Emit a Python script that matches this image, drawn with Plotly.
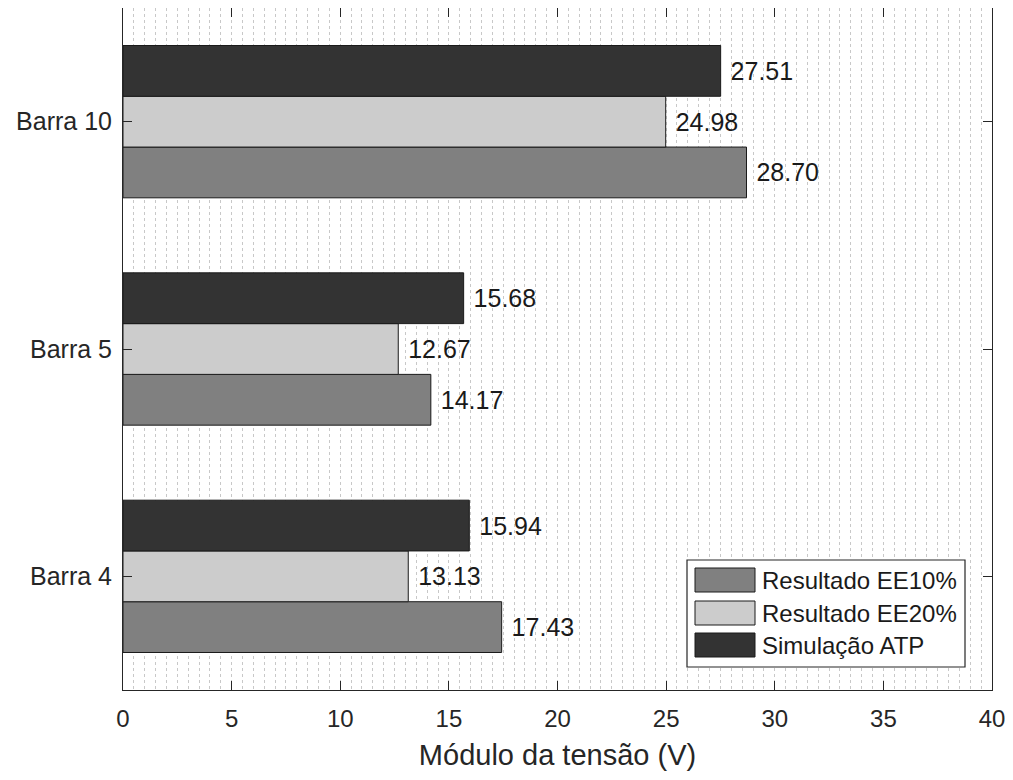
import plotly.graph_objects as go

categories = ["Barra 4", "Barra 5", "Barra 10"]
ee10 = [17.43, 14.17, 28.70]
ee20 = [13.13, 12.67, 24.98]
atp = [15.94, 15.68, 27.51]
series_names = ["Resultado EE10%", "Resultado EE20%", "Simulação ATP"]
colors = ["#808080", "#cccccc", "#333333"]
x_ticks = [0, 5, 10, 15, 20, 25, 30, 35, 40]

FONT = "Liberation Sans, Arial, sans-serif"
TXT = "#1a1a1a"
AX = "#262626"

fig = go.Figure()
for name, vals, col in zip(series_names, [ee10, ee20, atp], colors):
    fig.add_trace(go.Bar(
        y=categories, x=vals, name=name, orientation="h",
        marker=dict(color=col, line=dict(color="#1a1a1a", width=1)),
        text=vals, texttemplate=" %{x:.2f}", textposition="outside",
        textfont=dict(size=25, color=TXT, family=FONT),
        cliponaxis=False, showlegend=False,
    ))

# page is offset by the 8px body margin: compensate in the figure size/margins
W, H = 1005, 764
ML, MR, MT, MB = 115, 21, 0, 82
PW = W - ML - MR
PH = H - MT - MB
X0 = ML + 8          # page x of plot left
Y1 = MT + 8 + PH     # page y of plot bottom


def px(xp):  # page x -> paper
    return (xp - X0) / PW


def py(yp):  # page y -> paper
    return (Y1 - yp) / PH


shapes = [dict(type="rect", xref="paper", yref="paper",
               x0=px(687), x1=px(965), y0=py(667), y1=py(560),
               fillcolor="white", line=dict(color=AX, width=1.2), layer="above")]
annotations = []
sym_tops = [568, 601, 633]
for name, col, top in zip(series_names, colors, sym_tops):
    shapes.append(dict(type="rect", xref="paper", yref="paper",
                       x0=px(695), x1=px(755), y0=py(top + 24), y1=py(top),
                       fillcolor=col, line=dict(color="#1a1a1a", width=1), layer="above"))
    annotations.append(dict(xref="paper", yref="paper", x=px(760), y=py(top + 12),
                            xanchor="left", yanchor="middle", text=name, showarrow=False,
                            font=dict(size=24, color=TXT, family=FONT)))

fig.update_layout(
    width=W, height=H,
    margin=dict(l=ML, r=MR, t=MT, b=MB, autoexpand=False),
    barmode="group", bargap=0.33, bargroupgap=0,
    plot_bgcolor="white", paper_bgcolor="white",
    font=dict(family=FONT, size=25, color=AX),
    showlegend=False,
    shapes=shapes, annotations=annotations,
)
fig.update_xaxes(
    range=[0, 40], tickvals=x_ticks, ticks="inside", ticklen=9,
    tickcolor=AX, showline=True, linecolor=AX, linewidth=1,
    mirror="ticks", showgrid=True, gridcolor="#c8c8c8", griddash="dot", gridwidth=1,
    minor=dict(dtick=0.5, showgrid=True, gridcolor="#c8c8c8", griddash="dot", gridwidth=1),
    zeroline=False, ticklabelstandoff=7, ticklabeloverflow="allow",
    title=dict(text="Módulo da tensão (V)", font=dict(size=29, color=AX), standoff=13),
    tickfont=dict(size=24, color=AX),
)
fig.update_yaxes(
    range=[-0.5, 2.5], ticks="inside", ticklen=9, tickcolor=AX,
    showline=True, linecolor=AX, linewidth=1, mirror="ticks",
    showgrid=False, ticklabelstandoff=5,
    tickfont=dict(size=25, color=AX),
)
fig.write_html("out.html")
